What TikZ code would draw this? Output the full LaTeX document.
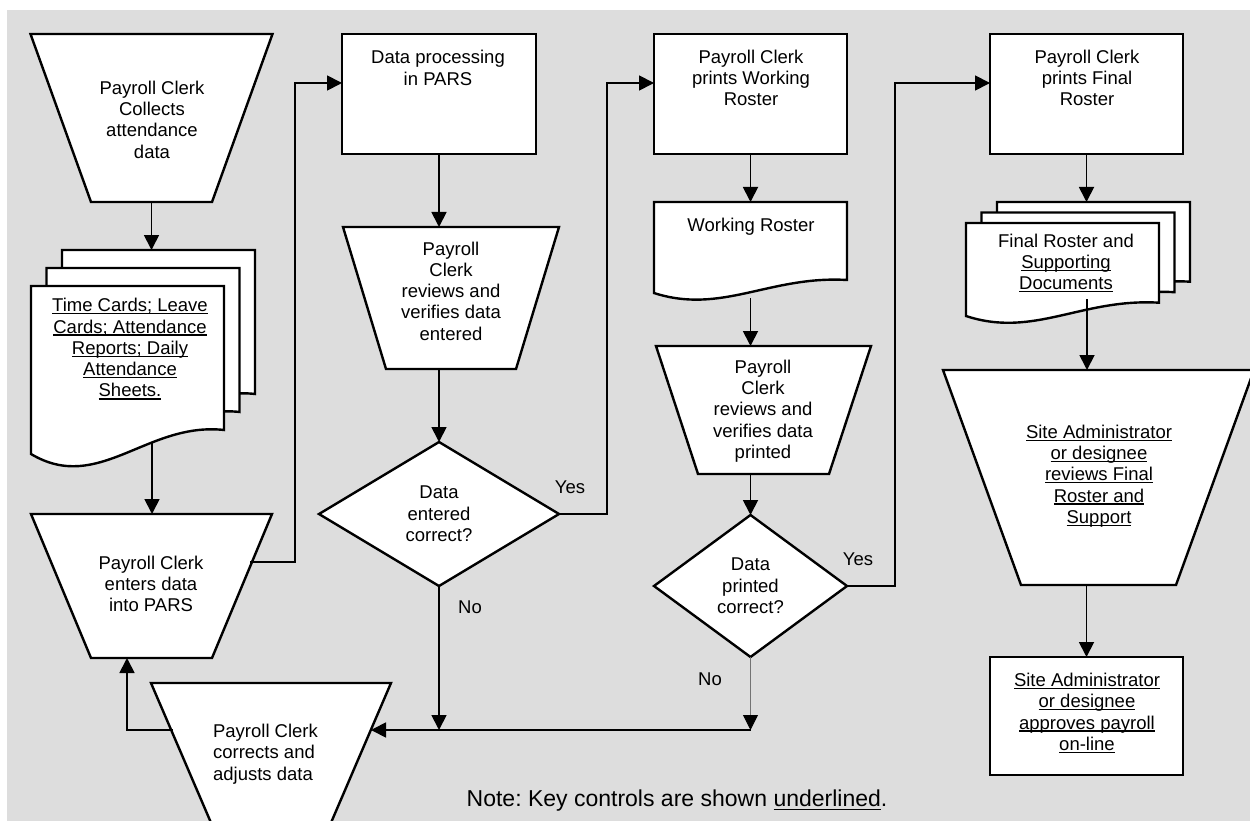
\documentclass[tikz,border=0pt]{standalone}
\usepackage{fontspec}
\setmainfont{Liberation Sans}
\usetikzlibrary{arrows.meta,shapes.geometric,calc}
\definecolor{bggray}{RGB}{221,221,221}
\frenchspacing
\newlength\ulw
\newcommand\ulx[1]{\settowidth\ulw{#1}\rlap{\rule[-0.145em]{\ulw}{0.07em}}#1}
\tikzset{
  shp/.style={draw=black, line width=2.4pt, fill=white, line join=miter},
  framebox/.style={draw=none, rectangle, inner sep=0pt, outer sep=0pt},
  procbox/.style={rectangle, shp, inner sep=0pt, outer sep=0pt},
  txt/.style={inner sep=0pt, align=center, font=\fontsize{18.5pt}{21.3pt}\selectfont},
  lbl/.style={inner sep=0pt, font=\fontsize{18.5pt}{21.3pt}\selectfont},
  dia/.style={diamond, shp, inner sep=0pt, outer sep=0pt, align=center, font=\fontsize{18.5pt}{21.3pt}\selectfont},
  conn/.style={line width=1.8pt, -{Triangle[width=15pt,length=15pt]}},
  thinconn/.style={line width=0.8pt, draw=black!55, -{Triangle[width=15pt,length=15pt,color=black]}},
}
% name, cx, ytop, wtop, h, inset
\newcommand\traps[6]{%
  \node[framebox, minimum width=#4pt, minimum height=#5pt, anchor=north] (#1) at (#2,#3) {};
  \draw[shp] (#1.north west) -- (#1.north east) -- ([xshift=-#6pt]#1.south east) -- ([xshift=#6pt]#1.south west) -- cycle;}
% x0, ytop, w, h
\newcommand\docsheet[4]{%
  \draw[shp] (#1,#2) -- ({#1+#3},#2) -- ({#1+#3},{#2+0.857*#4})
    .. controls ({#1+0.6*#3},{#2+0.807*#4}) and ({#1+0.35*#3},{#2+1.24*#4}) .. (#1,{#2+#4}) -- cycle;}
\begin{document}
\begin{tikzpicture}[x=1pt,y=-1pt]
\useasboundingbox (0,0) rectangle (1250,821);
\clip (0,0) rectangle (1250,821);
\fill[bggray] (7,10) rectangle (1250,821);

% column 1
\traps{t1}{151.5}{34}{242}{168}{60.5}
\node[framebox, minimum width=225pt, minimum height=216pt, anchor=north west] (doc1) at (31,250) {};
\docsheet{62}{250}{193}{168}
\docsheet{46.5}{268}{193}{168}
\docsheet{31}{286}{193}{168}
\traps{t2}{151.5}{514}{241}{144}{60}
\traps{t4}{271}{683}{240}{170}{73}

% column 2
\node[procbox, minimum width=194pt, minimum height=120pt] (b1) at (439,94) {};
\traps{t3}{451}{227}{216}{142}{43}
\node[dia, minimum width=240pt, minimum height=144pt] (d1) at (439,514) {Data\\entered\\correct?};

% column 3
\node[procbox, minimum width=193pt, minimum height=120pt] (b2) at (750.5,94) {};
\node[framebox, minimum width=193pt, minimum height=96pt, anchor=north west] (doc2) at (654,202) {};
\docsheet{654}{202}{193}{91}
\traps{t5}{763.5}{346}{215}{128}{42}
\node[dia, minimum width=193pt, minimum height=142pt] (d2) at (750.5,586) {Data\\printed\\correct?};

% column 4
\node[procbox, minimum width=193pt, minimum height=120pt] (b3) at (1086.5,94) {};
\node[framebox, minimum width=224pt, minimum height=120pt, anchor=north west] (doc3) at (966,202) {};
\docsheet{997}{202}{193}{93}
\docsheet{981.5}{212.5}{193}{93}
\docsheet{966}{223}{193}{93}
\traps{t6}{1098.5}{370}{311}{215}{78}
\node[procbox, minimum width=193pt, minimum height=118pt] (b4) at (1086.5,716) {};

% connectors
\coordinate (doc1out) at (152,443);
\coordinate (t2r) at (250,562);
\coordinate (t4r) at (371,730);
\coordinate (t4l) at (173,730);
\coordinate (doc3out) at (1087,299);

\draw[conn] (t1.south) -- (t1.south |- doc1.north);
\draw[conn] (doc1out) -- (doc1out |- t2.north);
\draw[conn] (t2r) -- ++(45,0) |- ([yshift=11pt]b1.west);
\draw[conn] (b1.south) -- (b1.south |- t3.north);
\draw[conn] (b1.south |- t3.south) -- (d1.north);
\draw[conn] (d1.east) -- ++(48,0) |- ([yshift=11pt]b2.west);
\draw[conn] (d1.south) -- (d1.south |- t4r);
\draw[thinconn] (d2.south) -- (d2.south |- t4r);
\draw[conn] (d2.south |- t4r) -- (t4r);
\draw[conn] (t4l) -| ([xshift=-24.5pt]t2.south);
\draw[conn] (b2.south) -- (doc2.north);
\draw[conn] (doc2.south) -- (doc2.south |- t5.north);
\draw[conn] (d2.north |- t5.south) -- (d2.north);
\draw[conn] (d2.east) -- ++(48,0) |- ([yshift=11pt]b3.west);
\draw[conn] (b3.south) -- (b3.south |- doc3.north);
\draw[conn] (doc3out) -- (doc3out |- t6.north);
\draw[conn] (b4.north |- t6.south) -- (b4.north);

% texts
\node[txt] (t1x) at (152,119.5) {Payroll Clerk\\Collects\\attendance\\data};
\node[txt] (doc1x) at (130,349) {\ulx{Time Cards; Leave}\\\ulx{Cards; Attendance}\\\ulx{Reports; Daily}\\\ulx{Attendance}\\\ulx{Sheets.}};
\node[txt] (t2x) at (151,584) {Payroll Clerk\\enters data\\into PARS};
\node[txt, align=left] (t4x) at (265.5,754) {Payroll Clerk\\corrects and\\adjusts data};
\node[txt] (b1x) at (438,68) {Data processing\\in PARS};
\node[txt] (t3x) at (451,291) {Payroll\\Clerk\\reviews and\\verifies data\\entered};
\node[txt] (b2x) at (751,78) {Payroll Clerk\\prints Working\\Roster};
\node[txt] (doc2x) at (751,227) {Working Roster};
\node[txt] (t5x) at (763,411) {Payroll\\Clerk\\reviews and\\verifies data\\printed};
\node[txt] (b3x) at (1087,78) {Payroll Clerk\\prints Final\\Roster};
\node[txt] (doc3x) at (1066,263) {Final Roster and\\\ulx{Supporting}\\\ulx{Documents}};
\node[txt] (t6x) at (1099,476) {\ulx{Site Administrator}\\\ulx{or designee}\\\ulx{reviews Final}\\\ulx{Roster and}\\\ulx{Support}};
\node[txt] (b4x) at (1087,713) {\ulx{Site Administrator}\\\ulx{or designee}\\\ulx{approves payroll}\\\ulx{on-line}};

\node[lbl] (yes1) at (570,487) {Yes};
\node[lbl] (no1) at (470,607) {No};
\node[lbl] (yes2) at (858,559) {Yes};
\node[lbl] (no2) at (710,679) {No};

\node[inner sep=0pt, font=\fontsize{23pt}{27pt}\selectfont] (note) at (677,801) {Note: Key controls are shown \ulx{underlined}.};
\end{tikzpicture}
\end{document}
